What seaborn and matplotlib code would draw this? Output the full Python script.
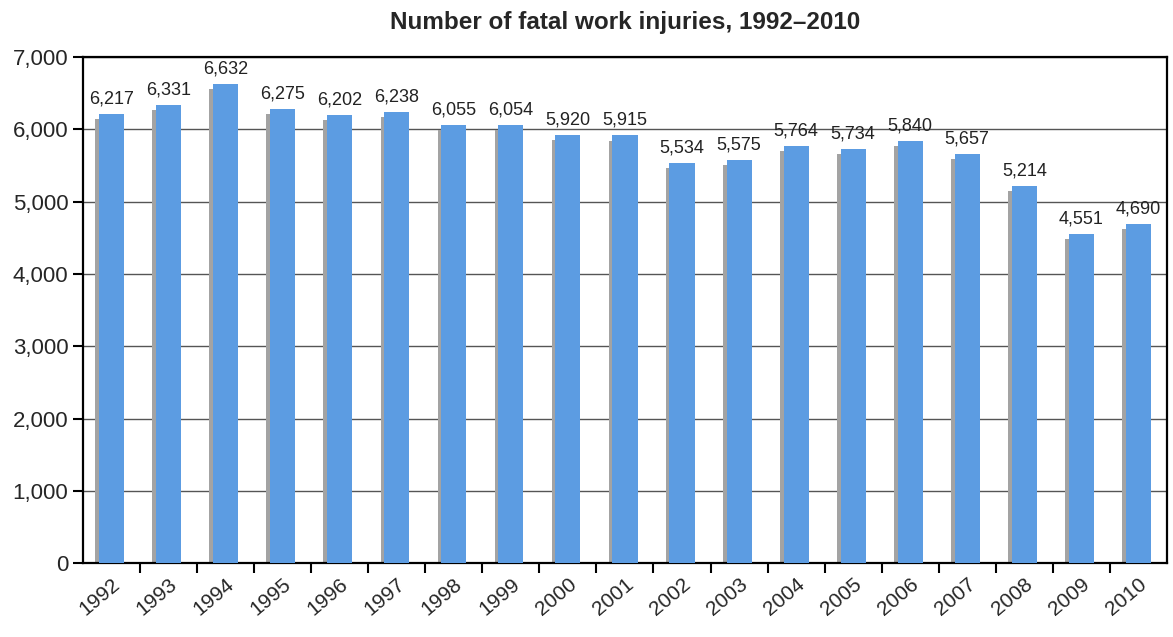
import numpy as np
import pandas as pd
import matplotlib
matplotlib.use('Agg')
import matplotlib.pyplot as plt
import seaborn as sns

# data
years = [str(y) for y in range(1992, 2011)]
deaths = [6217, 6331, 6632, 6275, 6202, 6238, 6055, 6054, 5920, 5915,
          5534, 5575, 5764, 5734, 5840, 5657, 5214, 4551, 4690]
y_ticks = [0, 1000, 2000, 3000, 4000, 5000, 6000, 7000]

sns.set_style("white")
plt.rcParams['font.family'] = ['Liberation Sans', 'DejaVu Sans']

df = pd.DataFrame({'year': years, 'deaths': deaths})

fig = plt.figure(figsize=(11.73, 6.37), dpi=100)
ax = fig.add_axes([0.0708, 0.116, 0.924, 0.7945])

# grey shadow strip on the left of each bar
pos = np.arange(len(years))
ax.bar(pos - 0.25, np.array(deaths) - 70, width=0.07, color='#a3a3a3',
       linewidth=0, zorder=2)

sns.barplot(data=df, x='year', y='deaths', color='#5c9ce2', saturation=1,
            width=0.44, ax=ax, zorder=3, linewidth=0, edgecolor='none')

for i, v in enumerate(deaths):
    ax.text(i, v + 90, f'{v:,}', ha='center', va='bottom', fontsize=13,
            color='#222222', zorder=4)

ax.set_xlim(-0.5, len(years) - 0.5)
ax.set_ylim(0, 7000)
ax.set_yticks(y_ticks)
ax.set_yticklabels([f'{t:,}' for t in y_ticks], fontsize=16)
ax.yaxis.grid(True, color='#555555', linewidth=1.0, zorder=1)
ax.set_axisbelow(True)

ax.set_xticks(pos)
ax.set_xticklabels(years, rotation=40, ha='right', rotation_mode='anchor', fontsize=15)
ax.set_xticks(pos[:-1] + 0.5, minor=True)
ax.tick_params(axis='x', which='major', length=0, pad=8, bottom=True)
ax.tick_params(axis='x', which='minor', length=7, width=1.5, direction='out',
               color='black', bottom=True)
ax.tick_params(axis='y', length=7, width=1.5, direction='out', color='black', left=True)
ax.set_xlabel('')
ax.set_ylabel('')

for s in ax.spines.values():
    s.set_visible(True)
    s.set_color('black')
    s.set_linewidth(1.6)

ax.set_title('Number of fatal work injuries, 1992–2010', fontsize=17.5,
             fontweight='bold', pad=20)

plt.savefig('out.png', dpi=100)
plt.close()
